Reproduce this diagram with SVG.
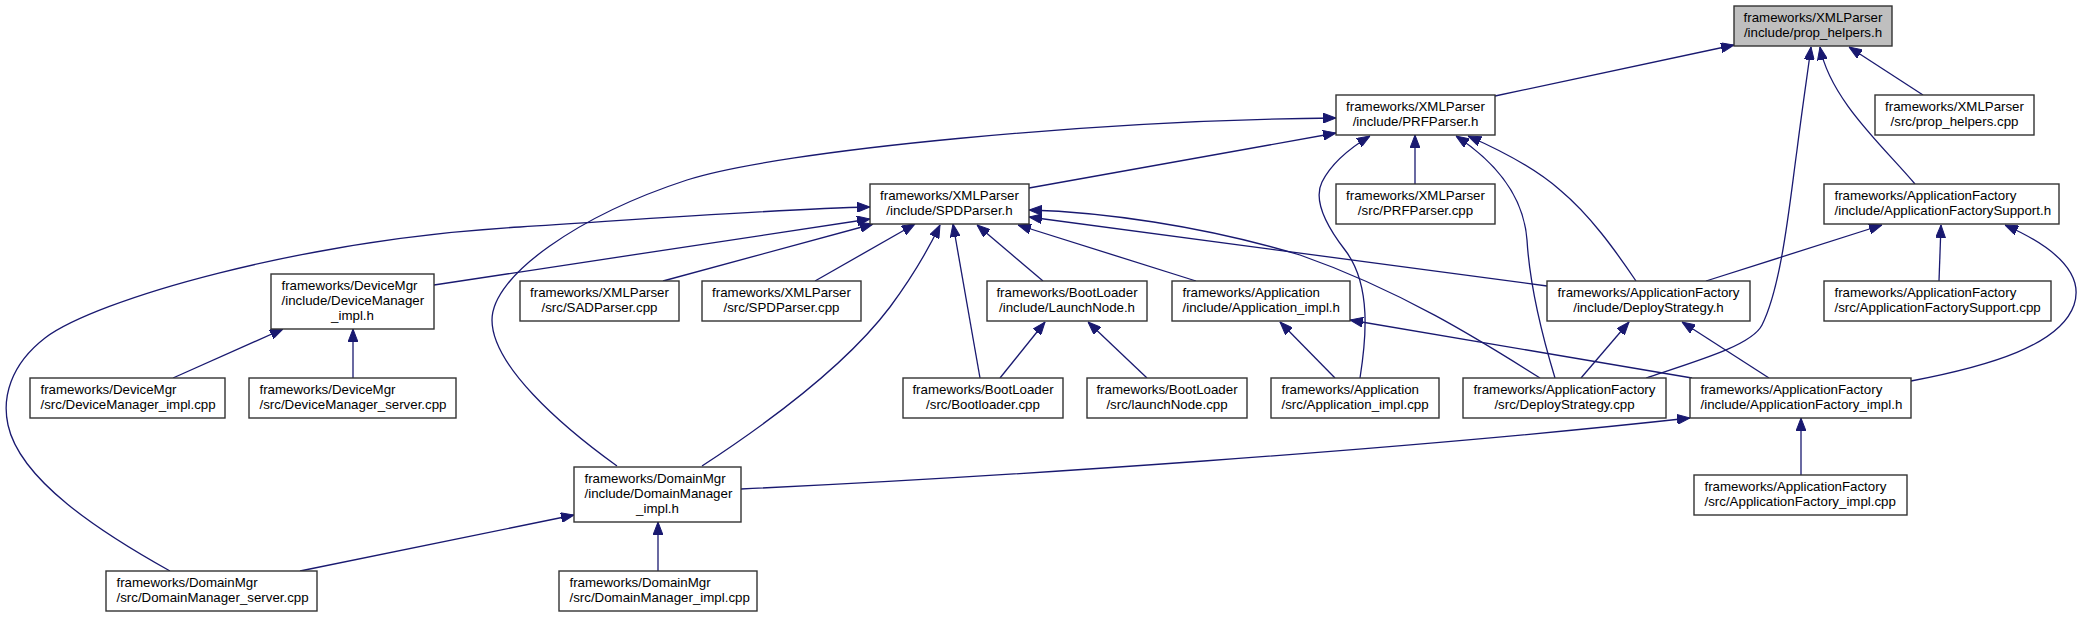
<svg xmlns="http://www.w3.org/2000/svg" width="2079" height="617" viewBox="0 0 2079 617">
<style>
.n rect{fill:#ffffff;stroke:#333333;stroke-width:1.4}
.root rect{fill:#bfbfbf}
text{font-family:"Liberation Sans",Arial,sans-serif;font-size:13.3px;fill:#000}
.c{text-anchor:middle}
.l{text-anchor:start}
#edges path{fill:none;stroke:#191970;stroke-width:1.3;marker-end:url(#ah)}
</style>
<defs>
<marker id="ah" viewBox="0 0 13 10" refX="13" refY="5" markerWidth="13" markerHeight="10" markerUnits="userSpaceOnUse" orient="auto">
<path d="M0,0 L13,5 L0,10 z" fill="#191970" stroke="#191970" stroke-width="1"/>
</marker>
</defs>
<rect width="2079" height="617" fill="#ffffff"/>
<g id="edges">
<path d="M1495,96 L1734,45"/>
<path d="M1923,95 L1849,47"/>
<path d="M1915,184 C1885,148 1830,100 1820,47"/>
<path d="M1646,378 C1700,360 1752,345 1762,325 C1782,285 1790,200 1797,150 C1802,110 1808,70 1811,47"/>
<path d="M1029,188 L1336,133"/>
<path d="M617,466 C560,425 492,365 492,320 C492,275 580,215 687,180 C780,150 1100,120 1336,118"/>
<path d="M1415,184 L1415,135"/>
<path d="M1360,378 C1366,340 1372,285 1345,250 C1325,224 1313,200 1322,182 C1331,164 1350,148 1370,136"/>
<path d="M1555,378 C1545,345 1530,290 1527,240 C1524,200 1500,165 1456,136"/>
<path d="M1636,281 C1615,250 1590,215 1560,190 C1535,168 1500,150 1468,136"/>
<path d="M170,571 C100,532 20,480 8,425 C2,398 10,365 45,338 C95,300 300,240 520,227 C660,218 780,209 870,207"/>
<path d="M434,285 L870,219"/>
<path d="M663,281 L873,224"/>
<path d="M815,281 L915,224"/>
<path d="M702,466 C780,415 850,360 890,307 C910,280 928,250 940,225"/>
<path d="M980,378 L953,224"/>
<path d="M1043,281 L977,225"/>
<path d="M1196,281 L1018,225"/>
<path d="M1547,286 L1029,217"/>
<path d="M1540,378 C1480,340 1400,290 1300,255 C1200,225 1100,212 1029,210"/>
<path d="M1706,281 L1882,225"/>
<path d="M1939,281 L1941,225"/>
<path d="M1911,381 C1990,366 2060,345 2074,305 C2085,272 2050,245 2005,225"/>
<path d="M1581,378 L1629,322"/>
<path d="M1769,378 L1682,322"/>
<path d="M1335,378 L1280,322"/>
<path d="M1692,378 L1350,320"/>
<path d="M1000,378 L1045,322"/>
<path d="M1147,378 L1088,322"/>
<path d="M741,489 C1000,477 1400,450 1690,418"/>
<path d="M1801,475 L1801,418"/>
<path d="M173,378 L283,329"/>
<path d="M353,378 L353,329"/>
<path d="M658,571 L658,522"/>
<path d="M300,571 L574,515"/>
</g>
<g id="n0" class="n root"><rect x="1734" y="6" width="158" height="40"/><text class="c" x="1813" y="22">frameworks/XMLParser</text><text class="c" x="1813" y="37">/include/prop_helpers.h</text></g>
<g id="n1" class="n"><rect x="1336" y="95" width="159" height="40"/><text class="c" x="1415.5" y="111">frameworks/XMLParser</text><text class="c" x="1415.5" y="126">/include/PRFParser.h</text></g>
<g id="n2" class="n"><rect x="1875" y="95" width="159" height="40"/><text class="c" x="1954.5" y="111">frameworks/XMLParser</text><text class="c" x="1954.5" y="126">/src/prop_helpers.cpp</text></g>
<g id="n3" class="n"><rect x="870" y="184" width="159" height="40"/><text class="c" x="949.5" y="200">frameworks/XMLParser</text><text class="c" x="949.5" y="215">/include/SPDParser.h</text></g>
<g id="n4" class="n"><rect x="1336" y="184" width="159" height="40"/><text class="c" x="1415.5" y="200">frameworks/XMLParser</text><text class="c" x="1415.5" y="215">/src/PRFParser.cpp</text></g>
<g id="n5" class="n"><rect x="1824" y="184" width="235" height="40"/><text class="l" x="1834.5" y="200">frameworks/ApplicationFactory</text><text class="l" x="1834.5" y="215">/include/ApplicationFactorySupport.h</text></g>
<g id="n6" class="n"><rect x="271" y="274" width="163" height="55"/><text class="l" x="281.5" y="290">frameworks/DeviceMgr</text><text class="l" x="281.5" y="305">/include/DeviceManager</text><text class="c" x="352.5" y="320">_impl.h</text></g>
<g id="n7" class="n"><rect x="520" y="281" width="159" height="40"/><text class="c" x="599.5" y="297">frameworks/XMLParser</text><text class="c" x="599.5" y="312">/src/SADParser.cpp</text></g>
<g id="n8" class="n"><rect x="702" y="281" width="159" height="40"/><text class="c" x="781.5" y="297">frameworks/XMLParser</text><text class="c" x="781.5" y="312">/src/SPDParser.cpp</text></g>
<g id="n9" class="n"><rect x="987" y="281" width="160" height="40"/><text class="c" x="1067" y="297">frameworks/BootLoader</text><text class="c" x="1067" y="312">/include/LaunchNode.h</text></g>
<g id="n10" class="n"><rect x="1172" y="281" width="178" height="40"/><text class="l" x="1182.5" y="297">frameworks/Application</text><text class="l" x="1182.5" y="312">/include/Application_impl.h</text></g>
<g id="n11" class="n"><rect x="1547" y="281" width="203" height="40"/><text class="c" x="1648.5" y="297">frameworks/ApplicationFactory</text><text class="c" x="1648.5" y="312">/include/DeployStrategy.h</text></g>
<g id="n12" class="n"><rect x="1824" y="281" width="227" height="40"/><text class="l" x="1834.5" y="297">frameworks/ApplicationFactory</text><text class="l" x="1834.5" y="312">/src/ApplicationFactorySupport.cpp</text></g>
<g id="n13" class="n"><rect x="30" y="378" width="195" height="40"/><text class="l" x="40.5" y="394">frameworks/DeviceMgr</text><text class="l" x="40.5" y="409">/src/DeviceManager_impl.cpp</text></g>
<g id="n14" class="n"><rect x="249" y="378" width="207" height="40"/><text class="l" x="259.5" y="394">frameworks/DeviceMgr</text><text class="l" x="259.5" y="409">/src/DeviceManager_server.cpp</text></g>
<g id="n15" class="n"><rect x="903" y="378" width="160" height="40"/><text class="c" x="983" y="394">frameworks/BootLoader</text><text class="c" x="983" y="409">/src/Bootloader.cpp</text></g>
<g id="n16" class="n"><rect x="1087" y="378" width="160" height="40"/><text class="c" x="1167" y="394">frameworks/BootLoader</text><text class="c" x="1167" y="409">/src/launchNode.cpp</text></g>
<g id="n17" class="n"><rect x="1271" y="378" width="168" height="40"/><text class="l" x="1281.5" y="394">frameworks/Application</text><text class="l" x="1281.5" y="409">/src/Application_impl.cpp</text></g>
<g id="n18" class="n"><rect x="1463" y="378" width="203" height="40"/><text class="c" x="1564.5" y="394">frameworks/ApplicationFactory</text><text class="c" x="1564.5" y="409">/src/DeployStrategy.cpp</text></g>
<g id="n19" class="n"><rect x="1690" y="378" width="221" height="40"/><text class="l" x="1700.5" y="394">frameworks/ApplicationFactory</text><text class="l" x="1700.5" y="409">/include/ApplicationFactory_impl.h</text></g>
<g id="n20" class="n"><rect x="574" y="467" width="167" height="55"/><text class="l" x="584.5" y="483">frameworks/DomainMgr</text><text class="l" x="584.5" y="498">/include/DomainManager</text><text class="c" x="657.5" y="513">_impl.h</text></g>
<g id="n21" class="n"><rect x="1694" y="475" width="213" height="40"/><text class="l" x="1704.5" y="491">frameworks/ApplicationFactory</text><text class="l" x="1704.5" y="506">/src/ApplicationFactory_impl.cpp</text></g>
<g id="n22" class="n"><rect x="106" y="571" width="211" height="40"/><text class="l" x="116.5" y="587">frameworks/DomainMgr</text><text class="l" x="116.5" y="602">/src/DomainManager_server.cpp</text></g>
<g id="n23" class="n"><rect x="559" y="571" width="198" height="40"/><text class="l" x="569.5" y="587">frameworks/DomainMgr</text><text class="l" x="569.5" y="602">/src/DomainManager_impl.cpp</text></g>
</svg>
